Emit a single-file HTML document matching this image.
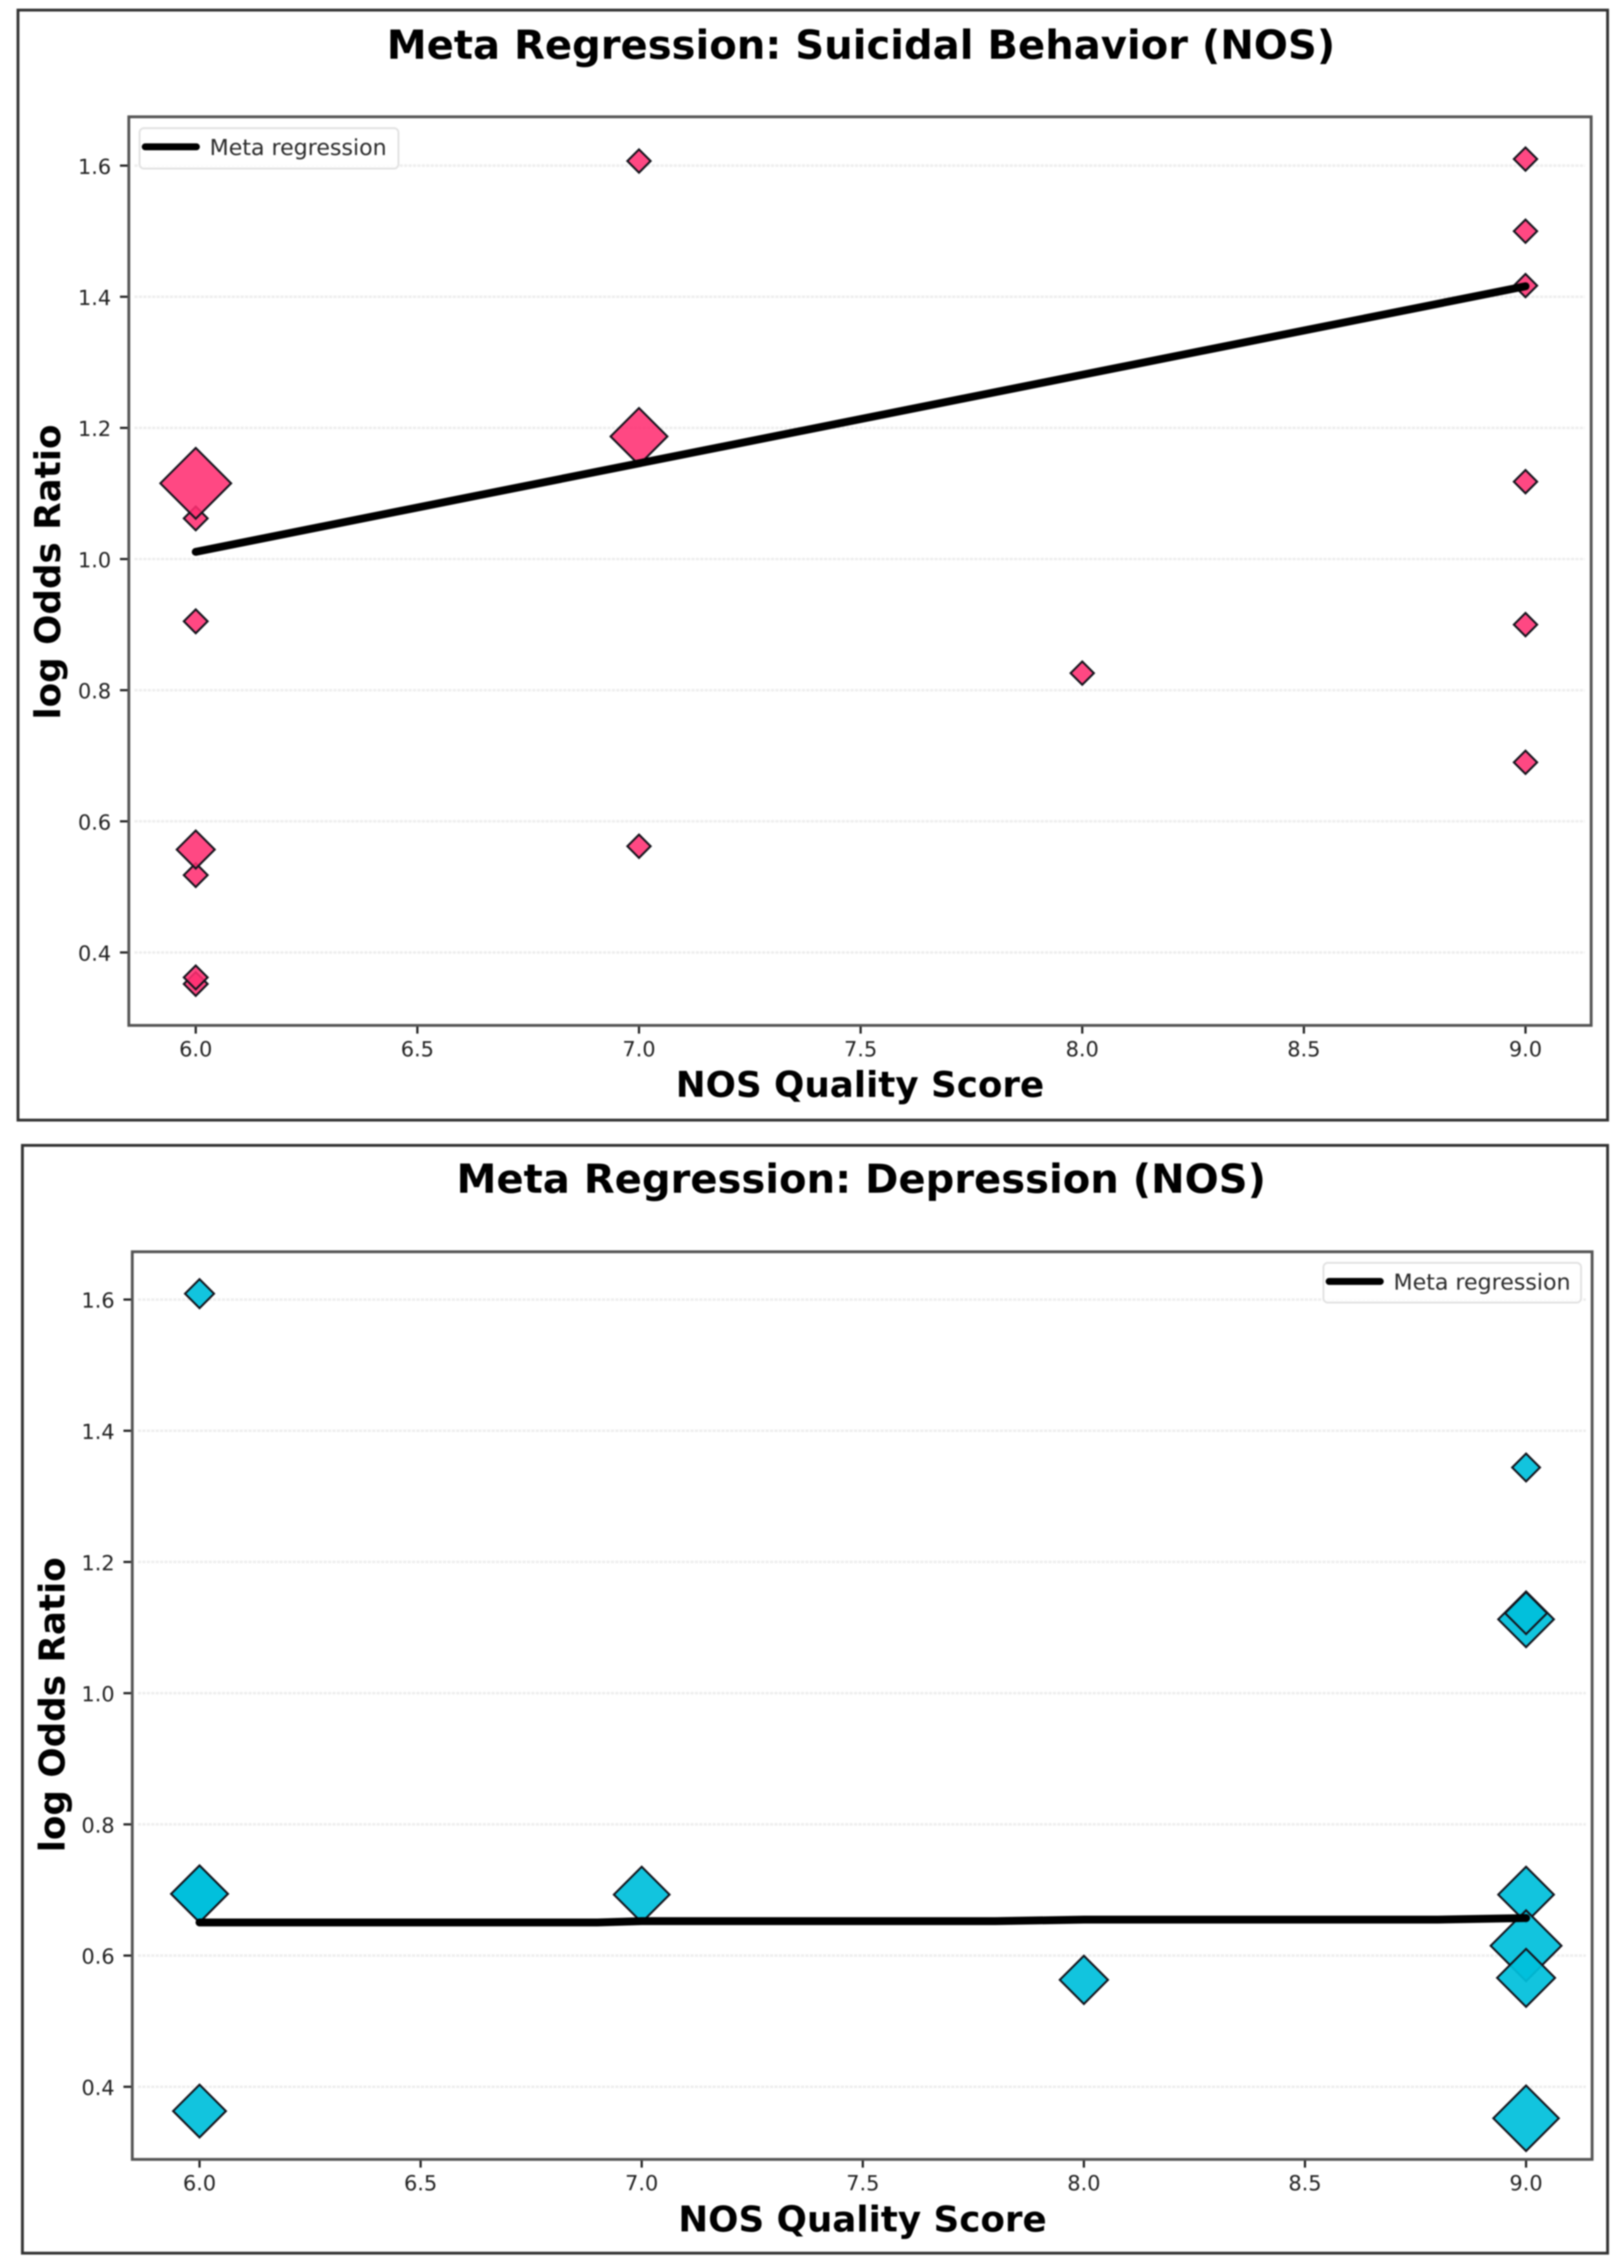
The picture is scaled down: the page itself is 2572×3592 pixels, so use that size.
<!DOCTYPE html>
<html lang="en">
<head>
<meta charset="utf-8">
<title>Meta Regression NOS</title>
<style>
html,body{margin:0;padding:0;background:#fff;width:2572px;height:3592px;overflow:hidden}
svg{display:block;filter:blur(1.1px)}
text{font-family:"DejaVu Sans","Liberation Sans",sans-serif}
.title{font-size:63.5px;font-weight:700;fill:#000;text-anchor:middle}
.axis-title{font-size:56.5px;font-weight:700;fill:#000;text-anchor:middle}
.tick{font-size:33px;fill:#222}
.legend-text{font-size:35px;fill:#2a2a2a}
</style>
</head>
<body>
<svg id="figure" xmlns="http://www.w3.org/2000/svg" width="2572" height="3592" viewBox="0 0 2572 3592">
  <rect x="0" y="0" width="2572" height="3592" fill="#fff"/>
  <rect x="28.5" y="16" width="2517.5" height="1758" fill="#fff" stroke="#333" stroke-width="4.5"/>
  <rect x="35.5" y="1814" width="2510.5" height="1754.5" fill="#fff" stroke="#333" stroke-width="4.5"/>
  <text class="title" x="1363.5" y="93">Meta Regression: Suicidal Behavior (NOS)</text>
  <text class="title" x="1364" y="1889">Meta Regression: Depression (NOS)</text>
  <text class="axis-title" x="1362" y="1737">NOS Quality Score</text>
  <text class="axis-title" x="1366" y="3534">NOS Quality Score</text>
  <text class="axis-title" transform="translate(95 906) rotate(-90)">log Odds Ratio</text>
  <text class="axis-title" transform="translate(102 2700) rotate(-90)">log Odds Ratio</text>
  <g id="panel-behavior"></g>
  <g id="panel-depression"></g>
</svg>
<script>
// Tick values and labels
const xTickValues = [6.0, 6.5, 7.0, 7.5, 8.0, 8.5, 9.0];
const xTickLabels = ['6.0', '6.5', '7.0', '7.5', '8.0', '8.5', '9.0'];
const yTickValues = [0.4, 0.6, 0.8, 1.0, 1.2, 1.4, 1.6];
const yTickLabels = ['0.4', '0.6', '0.8', '1.0', '1.2', '1.4', '1.6'];

// Suicidal behavior series
const behaviorScores = [6, 6, 6, 6, 6, 6, 6, 7, 7, 7, 8, 9, 9, 9, 9, 9, 9];
const behaviorLogOdds = [1.062, 0.905, 0.518, 0.352, 0.362, 0.557, 1.1155, 1.607, 0.562, 1.187, 0.826, 1.61, 1.5, 1.417, 1.118, 0.9, 0.69];
const behaviorWeights = [1.1, 1.1, 1.1, 1.1, 1.1, 2.8, 9.7, 1.05, 1.05, 6.25, 1.05, 1.05, 1.05, 1.05, 1.05, 1.05, 1.05];
const behaviorFitScores = [6, 9];
const behaviorFitValues = [1.011, 1.416];

// Depression series
const depressionScores = [6, 6, 6, 6, 7, 8, 9, 9, 9, 9, 9, 9, 9];
const depressionLogOdds = [1.609, 0.694, 0.694, 0.363, 0.693, 0.563, 1.344, 1.1126, 1.122, 0.693, 0.615, 0.566, 0.352];
const depressionWeights = [1.63, 6.25, 6.25, 5.4, 6, 4.5, 1.5, 6, 3.4, 6, 9.7, 6.5, 8.3];
const depressionFitScores = [6, 6.9, 7, 7.8, 8, 8.8, 9];
const depressionFitValues = [0.6505, 0.6505, 0.6525, 0.6525, 0.6548, 0.6548, 0.6572];

const NS = 'http://www.w3.org/2000/svg';
function make(parent, tag, attrs, text) {
  const node = document.createElementNS(NS, tag);
  for (const key in attrs) node.setAttribute(key, attrs[key]);
  if (text !== undefined) node.textContent = text;
  parent.appendChild(node);
  return node;
}

function drawPanel(cfg) {
  const g = document.getElementById(cfg.id);
  const xScale = v => cfg.x6 + (v - 6) * cfg.xUnit;
  const yScale = v => cfg.y04 - (v - 0.4) * cfg.yUnit;

  const plotBg = make(g, 'rect', {x: cfg.left, y: cfg.top, width: cfg.right - cfg.left, height: cfg.bottom - cfg.top, fill: '#fff'});
  
  

  yTickValues.forEach((v, i) => {
    const y = yScale(v);
    const grid = make(g, 'line', {x1: cfg.left + 9, x2: cfg.right - 10, y1: y, y2: y, stroke: '#eeeeee', 'stroke-width': 4, 'stroke-dasharray': '5 2'});
    
    
    const tick = make(g, 'line', {x1: cfg.left - 14, x2: cfg.left, y1: y, y2: y, stroke: '#222', 'stroke-width': 3.5});
    
    
    const label = make(g, 'text', {x: cfg.left - 28, y: y + 13, class: 'tick', 'text-anchor': 'end'}, yTickLabels[i]);
    
    
  });

  xTickValues.forEach((v, i) => {
    const x = xScale(v);
    const tick = make(g, 'line', {x1: x, x2: x, y1: cfg.bottom, y2: cfg.bottom + 13, stroke: '#222', 'stroke-width': 3.5});
    
    
    const label = make(g, 'text', {x: x, y: cfg.bottom + 49, class: 'tick', 'text-anchor': 'middle'}, xTickLabels[i]);
    
    
  });

  cfg.scores.forEach((score, i) => {
    const cx = xScale(score), cy = yScale(cfg.values[i]);
    const r = 18 * Math.sqrt(cfg.weights[i]);
    const pts = [[cx, cy - r], [cx + r, cy], [cx, cy + r], [cx - r, cy]].map(p => p.join(',')).join(' ');
    const marker = make(g, 'polygon', {points: pts, fill: cfg.color, 'fill-opacity': cfg.alpha, stroke: '#14141c', 'stroke-width': 3.2, 'stroke-linejoin': 'miter'});
    
    
  });

  const pts = cfg.fitScores.map((s, i) => xScale(s) + ',' + yScale(cfg.fitValues[i])).join(' ');
  const fit = make(g, 'polyline', {points: pts, fill: 'none', stroke: '#000', 'stroke-width': 12.5, 'stroke-linecap': 'round', 'stroke-linejoin': 'round'});
  
  

  const frame = make(g, 'rect', {x: cfg.left, y: cfg.top, width: cfg.right - cfg.left, height: cfg.bottom - cfg.top, fill: 'none', stroke: '#555', 'stroke-width': 4.5});
  
  

  const lg = cfg.legend;
  const legendBox = make(g, 'rect', {x: lg.left, y: lg.top, width: lg.right - lg.left, height: lg.bottom - lg.top, rx: 7, fill: '#fff', 'fill-opacity': 0.85, stroke: '#e2e2e2', 'stroke-width': 3});
  
  
  const legendLine = make(g, 'line', {x1: lg.left + 9, x2: lg.left + 90, y1: lg.lineY, y2: lg.lineY, stroke: '#000', 'stroke-width': 11, 'stroke-linecap': 'round'});
  
  
  const legendText = make(g, 'text', {x: lg.left + 111, y: lg.lineY + 13, class: 'legend-text'}, 'Meta regression');
  
  
}

drawPanel({
  id: 'panel-behavior', left: 204, right: 2520, top: 185, bottom: 1624,
  x6: 310, xUnit: 702, y04: 1508.5, yUnit: 1038.5,
  scores: behaviorScores, values: behaviorLogOdds, weights: behaviorWeights,
  fitScores: behaviorFitScores, fitValues: behaviorFitValues,
  color: '#ff2f72', alpha: 0.88,
  legend: {left: 221, right: 631, top: 203, bottom: 267, lineY: 232.5}
});
drawPanel({
  id: 'panel-depression', left: 209.5, right: 2521.5, top: 1982.5, bottom: 3420,
  x6: 316, xUnit: 700.3, y04: 3305, yUnit: 1039,
  scores: depressionScores, values: depressionLogOdds, weights: depressionWeights,
  fitScores: depressionFitScores, fitValues: depressionFitValues,
  color: '#00bfdc', alpha: 0.93,
  legend: {left: 2096, right: 2504, top: 2000, bottom: 2063, lineY: 2029.5}
});
</script>
</body>
</html>
